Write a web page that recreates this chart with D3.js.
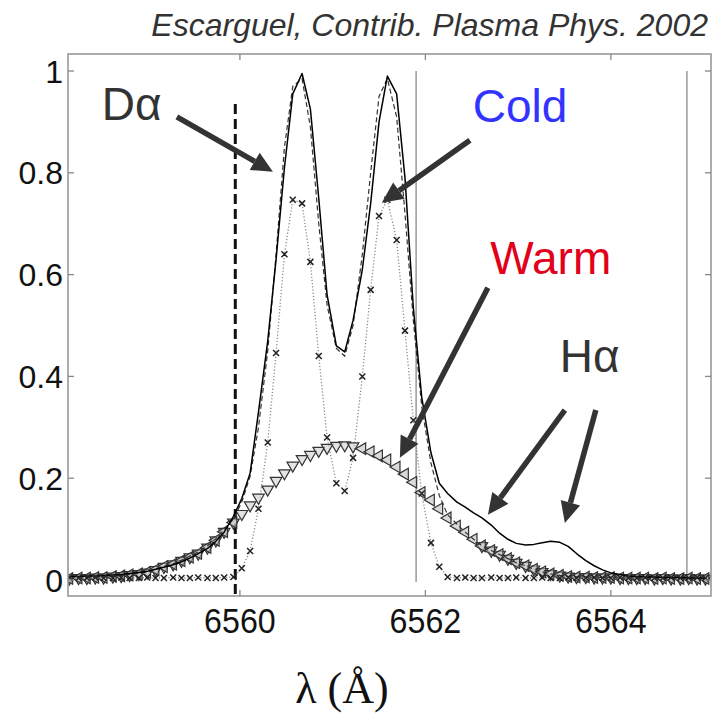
<!DOCTYPE html>
<html><head><meta charset="utf-8">
<script src="https://cdn.jsdelivr.net/npm/d3@7"></script>
<style>body{margin:0;background:#fff}svg{display:block}</style>
</head><body>
<svg id="c" width="715" height="714"></svg>
<script>
// ---- data ----
const lambda = [
6558.16,6558.26,6558.35,6558.44,6558.53,6558.63,6558.72,6558.81,6558.91,6559.00,
6559.09,6559.18,6559.28,6559.37,6559.46,6559.55,6559.65,6559.74,6559.83,6559.93,
6560.02,6560.11,6560.20,6560.30,6560.39,6560.48,6560.57,6560.67,6560.76,6560.85,
6560.94,6561.04,6561.13,6561.22,6561.32,6561.41,6561.50,6561.59,6561.69,6561.78,
6561.87,6561.96,6562.06,6562.15,6562.24,6562.34,6562.43,6562.52,6562.61,6562.71,
6562.80,6562.89,6562.98,6563.08,6563.17,6563.26,6563.35,6563.45,6563.54,6563.63,
6563.73,6563.82,6563.91,6564.00,6564.10,6564.19,6564.28,6564.37,6564.47,6564.56,
6564.65,6564.75,6564.84,6564.93,6565.02];
const measured = [
0.007,0.007,0.008,0.008,0.009,0.010,0.011,0.013,0.015,0.017,0.021,0.025,0.030,0.036,0.043,0.052,0.062,0.076,0.094,
0.125,0.16,0.21,0.33,0.47,0.63,0.81,0.955,0.995,0.925,0.75,0.56,0.46,0.448,0.51,0.61,0.74,0.90,0.99,0.955,
0.79,0.535,0.36,0.25,0.19,0.17,0.153,0.143,0.132,0.122,0.108,0.092,0.08,0.072,0.069,0.07,0.073,0.076,0.074,0.066,
0.052,0.038,0.028,0.02,0.014,0.011,0.008,
0.007,0.006,0.006,0.005,0.005,0.005,0.004,0.004,0.004];
const fitTotal = [
0.004,0.004,0.005,0.005,0.006,0.007,0.009,0.011,0.013,0.016,0.021,0.027,0.032,0.039,0.047,0.055,0.067,0.081,0.099,
0.12,0.153,0.204,0.30,0.45,0.64,0.85,0.97,0.985,0.89,0.70,0.54,0.455,0.44,0.50,0.64,0.80,0.95,0.985,0.91,0.72,
0.51,0.342,0.23,0.166,0.128,0.11,
0.094,0.08,0.067,0.058,0.05,0.042,0.034,0.028,0.021,0.016,0.012,0.009,0.007,0.006,0.006,0.005,0.005,0.005,0.004,
0.004,0.004,0.004,0.003,0.004,0.003,0.003,0.004,0.003,0.003];
const coldComp = [
0.005,0.004,0.004,0.005,0.004,0.004,0.005,0.004,0.004,0.005,0.004,0.004,0.005,0.004,0.004,0.005,0.004,0.004,0.005,
0.006,0.023,0.057,0.14,0.27,0.446,0.64,0.747,0.74,0.625,0.44,0.28,0.19,0.175,0.24,0.40,0.57,0.715,0.747,0.668,
0.49,0.314,0.17,0.073,0.026,0.006,
0.004,0.005,0.004,0.004,0.005,0.004,0.004,0.005,0.004,0.004,0.005,0.004,0.004,0.005,0.004,
0.004,0.005,0.004,0.004,0.005,0.004,0.004,0.005,0.004,0.004,0.005,0.004,0.004,0.005,0.004];
const warmComp = [
0.003,0.004,0.004,0.005,0.005,0.007,0.008,0.010,0.012,0.015,0.020,0.026,0.031,0.038,0.045,0.052,0.064,0.078,0.095,
0.113,0.130,0.147,0.162,0.178,0.195,0.21,0.225,0.238,0.246,0.254,0.26,0.264,0.265,0.263,0.258,0.252,0.244,0.236,0.222,
0.208,0.192,0.172,0.157,0.14,0.122,0.106,0.094,0.08,0.067,0.058,0.05,0.042,0.034,0.028,0.021,0.016,0.012,0.009,0.007,
0.006,0.006,0.005,0.005,0.005,0.004,0.004,0.004,0.004,0.003,0.004,0.003,0.003,0.004,0.003,0.003];
const xTicks = [6560, 6562, 6564];
const yTicks = [0, 0.2, 0.4, 0.6, 0.8, 1];
const yTickLabels = ["0", "0.2", "0.4", "0.6", "0.8", "1"];
const grayLines = [6561.90, 6564.82];
const dashedLine = {lambda: 6559.95, top: 0.935};
const labels = [
  {text: "D\u03b1", lam: 6558.51, v: 0.904, color: "#333"},
  {text: "Cold", lam: 6562.51, v: 0.900, color: "#3333ff"},
  {text: "Warm", lam: 6562.70, v: 0.601, color: "#e2001a"},
  {text: "H\u03b1", lam: 6563.45, v: 0.409, color: "#333"}
];
const arrows = [
  {from: [6559.32, 0.910], to: [6560.356, 0.802]},
  {from: [6562.48, 0.864], to: [6561.53, 0.741]},
  {from: [6562.674, 0.574], to: [6561.725, 0.240]},
  {from: [6563.504, 0.334], to: [6562.674, 0.128]},
  {from: [6563.838, 0.334], to: [6563.504, 0.112]}
];

// ---- chart ----
const svg = d3.select("#c");
const L = 68, R = 711, T = 54, B = 596;
const x = d3.scaleLinear().domain([6558.146, 6565.08]).range([L, R]);
const y = d3.scaleLinear().domain([-0.0314, 1.0334]).range([B, T]);
const pts = lambda.map((l, i) => ({l, m: measured[i], f: fitTotal[i], c: coldComp[i], w: warmComp[i]}));

svg.append("clipPath").attr("id", "pc").append("rect")
  .attr("x", L).attr("y", T).attr("width", R - L).attr("height", B - T);
const g = svg.append("g").attr("clip-path", "url(#pc)");

// reference vertical lines
g.selectAll("line.gl").data(grayLines).join("line")
  .attr("x1", d => x(d)).attr("x2", d => x(d))
  .attr("y1", y(1.0)).attr("y2", y(-0.004))
  .attr("stroke", "#999").attr("stroke-width", 1.5);
g.append("line")
  .attr("x1", x(dashedLine.lambda)).attr("x2", x(dashedLine.lambda))
  .attr("y1", y(dashedLine.top)).attr("y2", B)
  .attr("stroke", "#111").attr("stroke-width", 3).attr("stroke-dasharray", "10,5");

// cold dotted line
g.append("path").datum(pts)
  .attr("d", d3.line().x(d => x(d.l)).y(d => y(d.c)))
  .attr("fill", "none").attr("stroke", "#888").attr("stroke-width", 1.3)
  .attr("stroke-dasharray", "1.2,2");

// warm triangles
const tri = d3.symbol().type(d3.symbolTriangle).size(58)();
pts.forEach(d => {
  const down = d.l < 6561.25 || d.l > 6562.6;
  const left = d.l >= 6561.25 || d.l < 6560.0;
  if (down) g.append("path").attr("d", tri)
    .attr("transform", `translate(${x(d.l)},${y(d.w)}) rotate(180)`)
    .attr("fill", "#ccc").attr("fill-opacity", 0.55).attr("stroke", "#333").attr("stroke-width", 1.2);
  if (left) g.append("path").attr("d", tri)
    .attr("transform", `translate(${x(d.l)},${y(d.w)}) rotate(-90)`)
    .attr("fill", "#bbb").attr("fill-opacity", 0.55).attr("stroke", "#333").attr("stroke-width", 1.2);
});

// fit (dashed) and measured (solid)
g.append("path").datum(pts)
  .attr("d", d3.line().x(d => x(d.l)).y(d => y(d.f)))
  .attr("fill", "none").attr("stroke", "#333").attr("stroke-width", 1.2)
  .attr("stroke-dasharray", "5,3");
g.append("path").datum(pts)
  .attr("d", d3.line().x(d => x(d.l)).y(d => y(d.m)))
  .attr("fill", "none").attr("stroke", "#000").attr("stroke-width", 1.5)
  .attr("stroke-linejoin", "round");

// cold crosses
g.selectAll("path.xm").data(pts).join("path")
  .attr("d", "M-3,-3L3,3M-3,3L3,-3")
  .attr("transform", d => `translate(${x(d.l)},${y(d.c)})`)
  .attr("stroke", "#222").attr("stroke-width", 1.5);

// frame and ticks
svg.append("rect").attr("x", L).attr("y", T).attr("width", R - L).attr("height", B - T)
  .attr("fill", "none").attr("stroke", "#999").attr("stroke-width", 1.6);
const tk = 6;
yTicks.forEach(v => {
  svg.append("line").attr("x1", L).attr("x2", L + tk).attr("y1", y(v)).attr("y2", y(v)).attr("stroke", "#888").attr("stroke-width", 1.3);
  svg.append("line").attr("x1", R).attr("x2", R - tk).attr("y1", y(v)).attr("y2", y(v)).attr("stroke", "#888").attr("stroke-width", 1.3);
});
xTicks.forEach(v => {
  svg.append("line").attr("x1", x(v)).attr("x2", x(v)).attr("y1", B).attr("y2", B - tk).attr("stroke", "#888").attr("stroke-width", 1.3);
  svg.append("line").attr("x1", x(v)).attr("x2", x(v)).attr("y1", T).attr("y2", T + tk).attr("stroke", "#888").attr("stroke-width", 1.3);
});
const sans = "'Liberation Sans', Arial, sans-serif";
svg.selectAll("text.yl").data(yTicks).join("text")
  .attr("x", 63).attr("y", d => y(d) + 11.5)
  .attr("text-anchor", "end").attr("font-family", sans).attr("font-size", 32).attr("fill", "#111")
  .text((d, i) => yTickLabels[i]);
svg.selectAll("text.xl").data(xTicks).join("text")
  .attr("transform", d => `translate(${x(d)},633) scale(0.92,1)`)
  .attr("text-anchor", "middle").attr("font-family", sans).attr("font-size", 35).attr("fill", "#111")
  .text(d => d);

// axis title
svg.append("text").attr("x", 342).attr("y", 703).attr("text-anchor", "middle")
  .attr("font-family", "'Liberation Serif', 'Times New Roman', serif").attr("font-size", 44).attr("fill", "#111")
  .text("\u03bb (\u00c5)");

// source title
svg.append("text").attr("x", 708).attr("y", 36).attr("text-anchor", "end")
  .attr("font-family", sans).attr("font-style", "italic").attr("font-size", 32).attr("fill", "#333")
  .text("Escarguel, Contrib. Plasma Phys. 2002");

// annotations
svg.selectAll("text.ann").data(labels).join("text")
  .attr("x", d => x(d.lam)).attr("y", d => y(d.v))
  .attr("font-family", sans).attr("font-size", 46).attr("fill", d => d.color)
  .text(d => d.text);
arrows.forEach(a => {
  const x1 = x(a.from[0]), y1 = y(a.from[1]), x2 = x(a.to[0]), y2 = y(a.to[1]);
  const ang = Math.atan2(y2 - y1, x2 - x1), hl = 21, hw = 10;
  const bx = x2 - hl * Math.cos(ang), by = y2 - hl * Math.sin(ang);
  svg.append("line").attr("x1", x1).attr("y1", y1).attr("x2", bx).attr("y2", by)
    .attr("stroke", "#333").attr("stroke-width", 5.5);
  const px = -Math.sin(ang), py = Math.cos(ang);
  svg.append("path").attr("d", `M${x2},${y2}L${bx + hw * px},${by + hw * py}L${bx - hw * px},${by - hw * py}Z`)
    .attr("fill", "#333");
});
</script>
</body></html>
